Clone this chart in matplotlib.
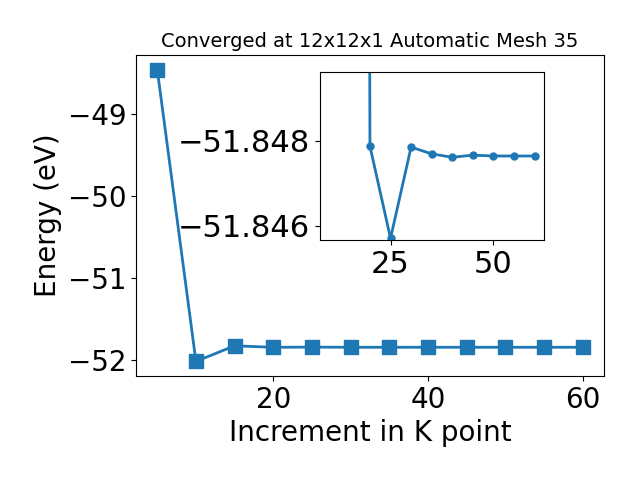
import numpy as np
import matplotlib.pyplot as plt

# k-point increments and converged total energies
k_points = [5, 10, 15, 20, 25, 30, 35, 40, 45, 50, 55, 60]
energy = [-48.46, -52.02, -51.83, -51.84787, -51.8457, -51.84785, -51.84769,
          -51.84761, -51.84766, -51.84764, -51.84764, -51.84764]

# zoomed view (the line enters from above at k=20)
inset_k = [10, 15, 20, 25, 30, 35, 40, 45, 50, 55, 60]
inset_e = [-52.02, -52.02, -51.84787, -51.8457, -51.84785, -51.84769,
           -51.84761, -51.84766, -51.84764, -51.84764, -51.84764]

fig = plt.figure(figsize=(6.4, 4.8), dpi=100)
ax = fig.add_axes([0.2125, 0.2167, 0.731, 0.6687])
ax.plot(k_points, energy, marker='s', markersize=10, linewidth=2, color='#1f77b4')
ax.set_title('Converged at 12x12x1 Automatic Mesh 35', fontsize=14)
ax.set_xlabel('Increment in K point', fontsize=20)
ax.set_ylabel('Energy (eV)', fontsize=20)
ax.tick_params(labelsize=20)
ax.set_yticks([-52, -51, -50, -49])

# inset
axins = fig.add_axes([0.5, 0.5, 0.35, 0.35])
axins.plot(inset_k, inset_e, marker='o', markersize=5, linewidth=2, color='#1f77b4')
axins.set_xlim(7.86, 62.3)
axins.set_ylim(-51.84566, -51.84962)
axins.set_xticks([25, 50])
axins.set_yticks([-51.848, -51.846])
axins.ticklabel_format(useOffset=False)
axins.tick_params(labelsize=22)

fig.savefig('out.png')
